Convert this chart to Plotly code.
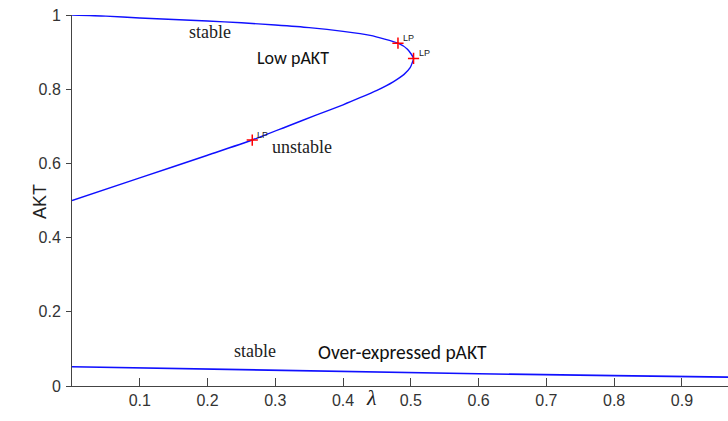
import plotly.graph_objects as go

# Upper (S-shaped) branch: stable part, fold, unstable part
upper_x = [0, 0.05, 0.1, 0.15, 0.2, 0.25, 0.3, 0.35, 0.4, 0.44, 0.481, 0.495, 0.504,
           0.502, 0.499, 0.49, 0.474, 0.45, 0.425, 0.4, 0.36, 0.32, 0.266, 0.2, 0.1, 0]
upper_y = [1.0, 0.997, 0.992, 0.988, 0.984, 0.979, 0.973, 0.966, 0.956, 0.945, 0.924, 0.908, 0.883,
           0.871, 0.858, 0.84, 0.82, 0.797, 0.777, 0.758, 0.73, 0.7015, 0.663, 0.622, 0.561, 0.5]

# Lower stable branch (over-expressed pAKT)
lower_x = [0, 0.2, 0.4, 0.6, 0.8, 0.97]
lower_y = [0.052, 0.045, 0.038, 0.033, 0.028, 0.024]

# Limit points
lp_x = [0.481, 0.504, 0.266]
lp_y = [0.924, 0.883, 0.663]
lp_labels = ["LP", "LP", "LP"]

x_ticks = [0.1, 0.2, 0.3, 0.4, 0.5, 0.6, 0.7, 0.8, 0.9]
y_ticks = [0, 0.2, 0.4, 0.6, 0.8, 1]
y_ticklabels = ["0", "0.2", "0.4", "0.6", "0.8", "1"]

W, H = 728, 421
L, R, T, B = 72, 0, 15, 35
PW, PH = W - L - R, H - T - B

fig = go.Figure()
fig.add_trace(go.Scatter(x=upper_x, y=upper_y, mode="lines",
                         line=dict(color="#1010ff", width=1.4, shape="spline", smoothing=0.6),
                         showlegend=False, hoverinfo="skip"))
fig.add_trace(go.Scatter(x=lower_x, y=lower_y, mode="lines",
                         line=dict(color="#1010ff", width=1.6),
                         showlegend=False, hoverinfo="skip"))
fig.add_trace(go.Scatter(x=lp_x, y=lp_y, mode="markers",
                         marker=dict(symbol="cross-thin", size=8, line=dict(color="red", width=1.5)),
                         showlegend=False, hoverinfo="skip"))

ann = []
for x, y, t in zip(lp_x, lp_y, lp_labels):
    ann.append(dict(x=x, y=y, text=t, showarrow=False, xanchor="left", yanchor="bottom",
                    xshift=3, yshift=-2, font=dict(family="Arial", size=9, color="#222")))

serif = "Times New Roman, Liberation Serif, serif"
sans2 = "Carlito, Lato, sans-serif"
ann += [
    dict(x=0.204, y=0.954, text="stable", showarrow=False, font=dict(family=serif, size=18, color="#222")),
    dict(x=0.339, y=0.644, text="unstable", showarrow=False, font=dict(family=serif, size=18, color="#222")),
    dict(x=0.27, y=0.094, text="stable", showarrow=False, font=dict(family=serif, size=18, color="#222")),
    dict(x=0.326, y=0.884, text="Low pAKT", showarrow=False, font=dict(family=sans2, size=18, color="#111")),
    dict(x=0.487, y=0.092, text="Over-expressed pAKT", showarrow=False, font=dict(family=sans2, size=19.5, color="#111")),
    dict(x=(28 - L) / PW, y=(H - B - 202) / PH, xref="paper", yref="paper", text="AKT",
         showarrow=False, textangle=-90, font=dict(family="Arial", size=18, color="#222")),
    dict(x=(371 - L) / PW, y=(H - B - 412) / PH, xref="paper", yref="paper", text="<i>λ</i>",
         showarrow=False, font=dict(family=serif, size=22, color="#222")),
]

fig.update_layout(
    width=W, height=H,
    margin=dict(l=L, r=R, t=T, b=B),
    plot_bgcolor="white", paper_bgcolor="white",
    annotations=ann,
    xaxis=dict(range=[0, 0.968], tickvals=x_ticks, ticks="inside", ticklen=8, tickcolor="#444",
               showline=True, linecolor="#444", linewidth=1, showgrid=False, zeroline=False,
               ticklabelstandoff=0,
               tickfont=dict(family="Arial", size=16, color="#333")),
    yaxis=dict(range=[0, 1], tickvals=y_ticks, ticktext=y_ticklabels, ticks="outside", ticklen=5,
               tickcolor="#444", showline=True, linecolor="#444", linewidth=1, showgrid=False,
               zeroline=False, ticklabelstandoff=2,
               tickfont=dict(family="Arial", size=16, color="#333")),
)

fig.write_html("out.html", config={"displayModeBar": False},
               post_script="document.body.style.margin='0px';")
